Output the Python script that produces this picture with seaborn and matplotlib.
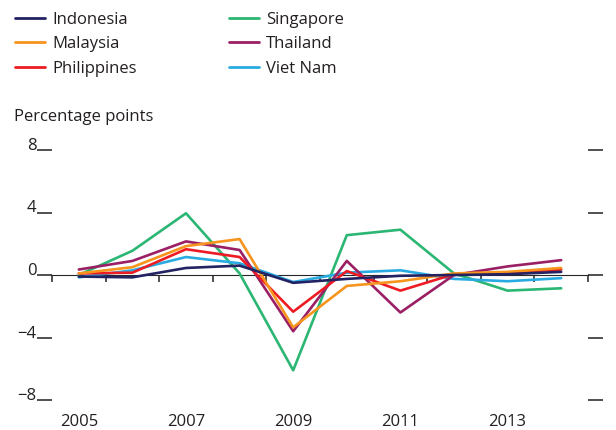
import pandas as pd
import matplotlib.pyplot as plt
import seaborn as sns

# Data (percentage points)
years = [2005, 2006, 2007, 2008, 2009, 2010, 2011, 2012, 2013, 2014]
indonesia = [-0.1, -0.15, 0.45, 0.6, -0.5, -0.25, -0.05, 0.0, 0.05, 0.2]
malaysia = [0.1, 0.5, 1.85, 2.3, -3.35, -0.7, -0.4, 0.1, 0.2, 0.45]
philippines = [0.1, 0.15, 1.65, 1.15, -2.35, 0.25, -1.0, 0.05, 0.15, 0.35]
singapore = [0.0, 1.55, 3.95, 0.1, -6.1, 2.55, 2.9, 0.1, -1.0, -0.85]
thailand = [0.35, 0.9, 2.15, 1.6, -3.6, 0.9, -2.4, 0.0, 0.55, 0.95]
viet_nam = [-0.15, 0.3, 1.15, 0.75, -0.45, 0.15, 0.3, -0.25, -0.4, -0.2]

countries = ['Indonesia', 'Malaysia', 'Philippines', 'Singapore', 'Thailand', 'Viet Nam']
series = [indonesia, malaysia, philippines, singapore, thailand, viet_nam]
colors = ['#232262', '#F7941D', '#ED1C24', '#2BB673', '#9B1F64', '#29ABE2']

y_ticks = [-8, -4, 0, 4, 8]
x_labels = [2005, 2007, 2009, 2011, 2013]

# long-form table for seaborn
df = pd.DataFrame({
    'year': years * len(countries),
    'value': sum(series, []),
    'country': [c for c in countries for _ in years],
})

sns.set_style('white')
plt.rcParams['font.family'] = ['Open Sans', 'DejaVu Sans']
plt.rcParams['font.size'] = 12

fig = plt.figure(figsize=(6.16, 4.30), dpi=100)
ax = fig.add_axes([52 / 616, 1 - 400 / 430, 536 / 616, 250 / 430])

# draw Singapore first so the smaller movers sit on top
order = ['Singapore', 'Viet Nam', 'Thailand', 'Philippines', 'Malaysia', 'Indonesia']
pal = dict(zip(countries, colors))
for c in order:
    sns.lineplot(data=df[df['country'] == c], x='year', y='value', color=pal[c],
                 linewidth=1.9, ax=ax, legend=False)

ax.set_xlim(2004.5, 2014.5)
ax.set_ylim(-8, 8)
ax.set_xlabel('')
ax.set_ylabel('')
for s in ax.spines.values():
    s.set_visible(False)

# y ticks: left labelled, right plain
ax.set_yticks(y_ticks)
ax.set_yticklabels([str(v).replace('-', '\u2212') for v in y_ticks])
ax.tick_params(axis='y', left=True, right=True, direction='out', length=11,
               width=1.1, color='#231F20', pad=0, labelsize=12, labelcolor='#231F20')
for lab in ax.get_yticklabels():
    lab.set_verticalalignment('baseline')

# x labels at bottom without tick marks
ax.set_xticks(x_labels)
ax.set_xticklabels([str(v) for v in x_labels])
ax.tick_params(axis='x', bottom=True, length=0, pad=10, labelsize=12, labelcolor='#231F20')

# zero line with year-boundary ticks
zero = ax.secondary_xaxis(0.5)
zero.set_xticks([y - 0.5 for y in years] + [years[-1] + 0.5])
zero.set_xticklabels([])
zero.tick_params(direction='in', length=5, width=1.1, color='#231F20')
zero.spines['bottom'].set_linewidth(2)
zero.spines['bottom'].set_color('#231F20')

fig.text(14 / 616, 1 - 117 / 430, 'Percentage points', fontsize=12,
         color='#231F20', va='center', ha='left')

handles = [plt.Line2D([], [], color=col, linewidth=2) for col in colors]
fig.legend(handles, countries, loc='upper left', bbox_to_anchor=(0 / 616, 1 + 3 / 430),
           ncol=2, frameon=False, handlelength=1.8, handletextpad=0.45,
           columnspacing=5.5, labelspacing=0.5, fontsize=12, labelcolor='#231F20')

fig.savefig('out.png', dpi=100)
